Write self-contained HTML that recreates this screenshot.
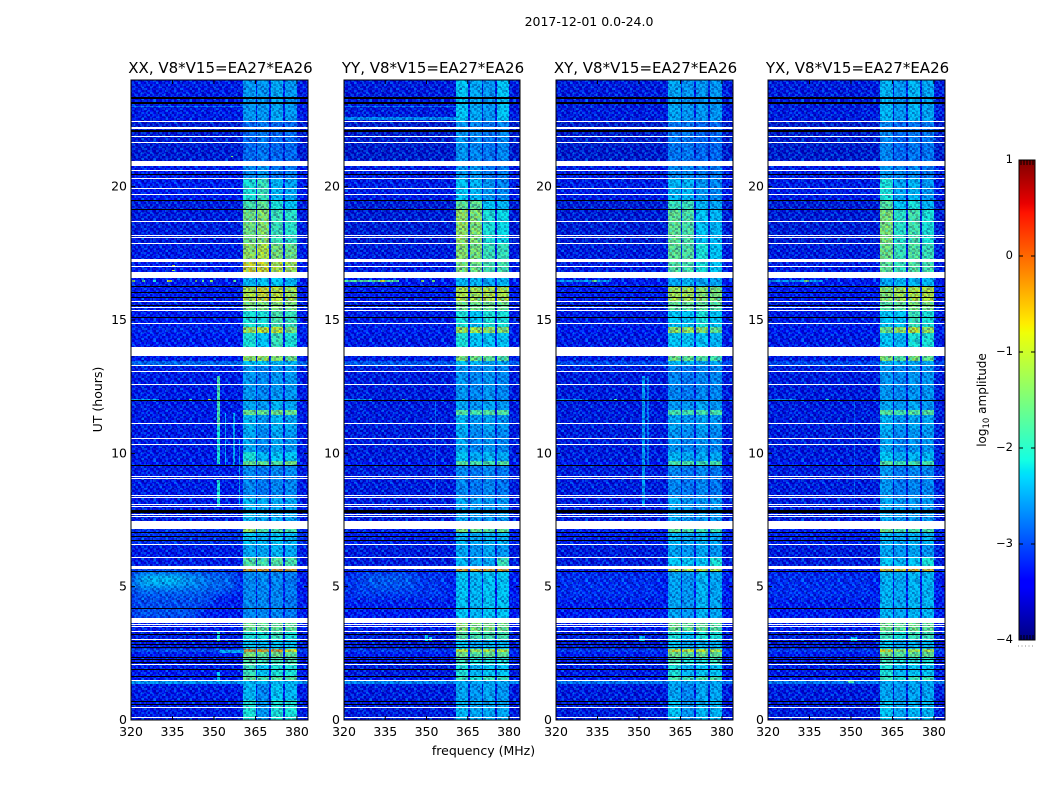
<!DOCTYPE html>
<html lang="en">
<head>
<meta charset="utf-8">
<title>2017-12-01 dynamic spectra</title>
<style>
html,body{margin:0;padding:0;background:#fff;width:1050px;height:800px;overflow:hidden}
svg{display:block}
text{font-family:"DejaVu Sans","Liberation Sans",sans-serif;fill:#000}
</style>
</head>
<body>
<svg id="figure" xmlns="http://www.w3.org/2000/svg" width="1050" height="800" viewBox="0 0 1050 800">
  <rect x="0" y="0" width="1050" height="800" fill="#fff"/>
  <text x="589" y="26" font-size="12.5" text-anchor="middle">2017-12-01 0.0-24.0</text>
  <text x="483.5" y="755" font-size="12.5" text-anchor="middle">frequency (MHz)</text>
  <text transform="translate(102,399.5) rotate(-90)" font-size="12.5" text-anchor="middle">UT (hours)</text>
  <text transform="translate(986,400) rotate(-90)" font-size="12" text-anchor="middle">log<tspan font-size="8.5" dy="3">10</tspan><tspan dy="-3"> amplitude</tspan></text>
</svg>
<script>
// ---- Axis tick labels ----
const freqTicks = [320, 335, 350, 365, 380];
const utTicks = [0, 5, 10, 15, 20];
const colorTicks = [1, 0, -1, -2, -3, -4];
const polarizationNames = ['XX', 'YY', 'XY', 'YX'];
const baselineLabel = ', V8*V15=EA27*EA26';

// ---- Frequency channels (MHz) and the level column each one reads ----
const channelStart = [320, 360.6, 365.1, 365.7, 370, 370.7, 375, 375.8, 380.1];
const channelEnd = [360.6, 365.1, 365.7, 370, 370.7, 375, 375.8, 380.1, 384];
const channelLevel = [0, 1, 0, 2, 0, 3, 0, 4, 0];

// ---- Time spans (UT hours) ----
const utStart = [0, .73, 1.33, 1.44, 1.59, 2.08, 2.35, 2.53, 2.65, 2.98, 3.32, 3.62, 5.53, 5.65, 6.10, 6.59, 7.04, 7.45, 8.35, 9.55, 9.70, 10.04, 10.86, 11.43, 11.61, 11.99, 13.30, 13.45, 13.98, 14.50, 14.73, 15.37, 15.70, 16.23, 16.57, 17.17, 17.88, 19.16, 19.49, 20.32, 20.96, 22.46];
const utEnd = [.73, 1.33, 1.44, 1.59, 2.08, 2.35, 2.53, 2.65, 2.98, 3.32, 3.62, 5.53, 5.65, 6.10, 6.59, 7.04, 7.45, 8.35, 9.55, 9.70, 10.04, 10.86, 11.43, 11.61, 11.99, 13.30, 13.45, 13.98, 14.50, 14.73, 15.37, 15.70, 16.23, 16.57, 17.17, 17.88, 19.16, 19.49, 20.32, 20.96, 22.46, 24];

// ---- log10 amplitude per span: [background, window 1, window 2, window 3, window 4] ----
const xxLevels = [
[-3.25,-1.9,-2.3,-1.9,-1.9],[-3.25,-2.1,-2.4,-2.0,-2.1],[-2.3,-2.1,-2.1,-2.1,-2.1],[-3.15,-1.5,-1.7,-1.6,-1.6],[-3.2,-1.8,-2.0,-1.9,-1.9],[-3.2,-1.6,-1.8,-1.8,-1.7],
[-3.15,-1.3,-1.5,-1.4,-1.5],[-2.8,-0.2,-0.3,-0.3,-0.7],[-3.25,-2.0,-2.1,-2.0,-2.0],[-3.25,-1.9,-1.9,-1.8,-1.9],[-3.15,-1.4,-1.5,-1.5,-1.5],[-3.15,-2.4,-2.4,-2.4,-2.5],
[-3.1,-0.3,-0.3,-0.2,-0.3],[-3.25,-1.6,-1.7,-1.6,-1.7],[-3.25,-2.2,-2.2,-2.1,-2.2],[-3.0,-2.0,-2.1,-2.0,-2.1],[-3.0,-1.1,-1.7,-1.7,-1.7],[-3.25,-2.1,-2.2,-2.2,-2.2],
[-3.25,-2.4,-2.5,-2.4,-2.4],[-3.15,-1.5,-1.5,-1.6,-1.4],[-3.25,-1.9,-2.1,-2.0,-2.0],[-3.25,-2.2,-2.4,-2.2,-2.3],[-3.25,-2.1,-2.3,-2.1,-2.2],[-3.25,-1.4,-1.5,-1.4,-1.4],
[-3.25,-2.2,-2.3,-2.1,-2.2],[-3.25,-2.3,-2.4,-2.3,-2.3],[-2.6,-2.0,-2.0,-2.1,-2.1],[-3.2,-1.1,-1.1,-1.2,-1.4],[-3.2,-1.9,-2.0,-1.8,-1.9],[-3.05,-1.0,-0.8,-0.8,-1.3],
[-3.2,-1.9,-1.9,-1.7,-1.8],[-3.25,-1.3,-1.3,-1.2,-1.3],[-3.15,-0.9,-0.7,-0.8,-1.0],[-3.15,-2.1,-2.0,-2.0,-2.1],[-3.2,-0.7,-0.7,-0.9,-1.0],[-3.25,-1.1,-0.9,-1.3,-1.4],
[-3.3,-1.35,-1.2,-1.8,-1.85],[-3.3,-1.7,-1.5,-1.9,-2.0],[-3.2,-1.9,-1.8,-2.1,-2.2],[-3.2,-2.4,-2.3,-2.5,-2.5],[-3.35,-2.6,-2.5,-2.6,-2.6],[-3.25,-2.3,-2.3,-2.2,-2.3]
];
const yyLevels = [
[-3.3,-2.1,-2.2,-2.2,-2.2],[-3.3,-2.2,-2.3,-2.2,-2.3],[-2.4,-2.2,-2.2,-2.2,-2.2],[-3.2,-1.8,-1.9,-1.8,-1.8],[-3.3,-1.9,-2.1,-2.0,-2.0],[-3.2,-1.8,-1.9,-1.9,-1.9],
[-3.2,-1.4,-1.6,-1.5,-1.5],[-2.9,-0.8,-1.1,-0.9,-0.9],[-3.3,-2.0,-2.2,-2.1,-2.1],[-3.3,-1.6,-1.7,-1.7,-1.7],[-3.2,-1.2,-1.3,-1.3,-1.4],[-3.15,-2.0,-2.1,-2.0,-2.0],
[-3.2,-0.3,-0.4,-0.3,-0.3],[-3.3,-2.1,-2.2,-2.2,-1.8],[-3.3,-2.2,-2.3,-2.2,-2.3],[-3.1,-2.1,-2.2,-2.1,-2.1],[-3.1,-1.3,-1.5,-1.6,-1.5],[-3.3,-2.2,-2.3,-2.3,-2.3],
[-3.3,-2.4,-2.5,-2.4,-2.5],[-3.2,-1.6,-1.7,-1.7,-1.6],[-3.3,-2.0,-2.2,-2.1,-2.2],[-3.3,-2.2,-2.4,-2.3,-2.4],[-3.3,-2.1,-2.3,-2.2,-2.3],[-3.3,-1.6,-1.7,-1.6,-1.6],
[-3.3,-2.2,-2.3,-2.2,-2.3],[-3.3,-2.3,-2.4,-2.3,-2.4],[-2.7,-2.0,-2.1,-2.2,-2.2],[-3.25,-1.3,-1.4,-1.5,-1.6],[-3.25,-1.9,-2.0,-2.0,-2.0],[-3.1,-1.0,-1.0,-1.1,-1.2],
[-3.25,-1.9,-2.0,-1.9,-1.9],[-3.3,-1.4,-1.4,-1.4,-1.4],[-3.2,-0.9,-1.0,-0.9,-0.9],[-3.2,-2.1,-2.1,-2.2,-2.1],[-3.25,-1.3,-1.4,-1.7,-1.7],[-3.3,-1.2,-1.3,-1.8,-1.8],
[-3.35,-1.1,-1.25,-1.9,-1.95],[-3.35,-1.5,-1.5,-2.0,-2.1],[-3.25,-2.0,-2.1,-2.3,-2.4],[-3.25,-2.3,-2.3,-2.5,-2.5],[-3.4,-2.3,-2.4,-2.5,-2.4],[-3.3,-2.0,-2.2,-2.3,-2.0]
];
const xyLevels = [
[-3.3,-2.0,-2.3,-2.1,-2.1],[-3.3,-2.2,-2.4,-2.2,-2.2],[-2.5,-2.2,-2.2,-2.2,-2.2],[-3.2,-1.7,-1.8,-1.7,-1.7],[-3.25,-1.9,-2.1,-2.0,-2.0],[-3.25,-1.7,-1.9,-1.9,-1.8],
[-3.2,-1.4,-1.5,-1.4,-1.5],[-2.9,-0.7,-0.8,-0.8,-1.0],[-3.3,-2.0,-2.2,-2.1,-2.1],[-3.3,-1.9,-2.0,-1.9,-1.9],[-3.2,-1.4,-1.5,-1.5,-1.6],[-3.2,-2.2,-2.3,-2.1,-2.2],
[-3.2,-0.9,-1.0,-0.9,-1.0],[-3.3,-2.0,-2.0,-2.0,-1.9],[-3.3,-2.2,-2.3,-2.2,-2.3],[-3.1,-2.1,-2.2,-2.1,-2.2],[-3.1,-1.5,-1.7,-1.8,-1.8],[-3.3,-2.2,-2.3,-2.3,-2.3],
[-3.3,-2.4,-2.5,-2.4,-2.5],[-3.2,-1.7,-1.7,-1.8,-1.7],[-3.3,-2.1,-2.2,-2.2,-2.2],[-3.3,-2.3,-2.4,-2.3,-2.4],[-3.3,-2.2,-2.3,-2.2,-2.3],[-3.3,-1.7,-1.7,-1.7,-1.7],
[-3.3,-2.3,-2.3,-2.2,-2.3],[-3.3,-2.4,-2.5,-2.4,-2.4],[-2.8,-2.1,-2.1,-2.2,-2.2],[-3.25,-1.4,-1.5,-1.6,-1.7],[-3.25,-2.0,-2.0,-2.0,-2.1],[-3.15,-1.1,-1.1,-1.2,-1.5],
[-3.25,-2.0,-2.0,-1.9,-2.0],[-3.3,-1.5,-1.5,-1.5,-1.6],[-3.2,-1.0,-1.0,-1.2,-1.3],[-3.2,-2.2,-2.1,-2.2,-2.2],[-3.25,-1.6,-1.7,-1.9,-2.0],[-3.3,-1.5,-1.6,-1.9,-2.0],
[-3.35,-1.5,-1.65,-2.0,-2.1],[-3.35,-1.8,-1.8,-2.1,-2.2],[-3.25,-2.1,-2.1,-2.3,-2.4],[-3.25,-2.4,-2.4,-2.5,-2.5],[-3.4,-2.5,-2.5,-2.6,-2.6],[-3.3,-2.2,-2.3,-2.3,-2.3]
];
const yxLevels = [
[-3.3,-2.0,-2.2,-2.1,-2.1],[-3.3,-2.2,-2.3,-2.2,-2.2],[-2.5,-2.2,-2.2,-2.2,-2.2],[-3.2,-1.8,-1.9,-1.8,-1.8],[-3.25,-1.9,-2.1,-2.0,-2.0],[-3.25,-1.8,-1.9,-1.9,-1.9],
[-3.2,-1.4,-1.6,-1.5,-1.5],[-2.9,-0.7,-1.2,-1.0,-1.0],[-3.3,-2.0,-2.2,-2.1,-2.1],[-3.3,-1.8,-1.9,-1.8,-1.8],[-3.2,-1.4,-1.5,-1.4,-1.5],[-3.2,-2.1,-2.2,-2.1,-2.1],
[-3.2,-0.5,-0.6,-0.4,-0.5],[-3.3,-2.0,-2.1,-2.0,-1.9],[-3.3,-2.2,-2.3,-2.2,-2.3],[-3.1,-2.1,-2.2,-2.1,-2.1],[-3.1,-1.4,-1.7,-1.7,-1.7],[-3.3,-2.2,-2.3,-2.3,-2.3],
[-3.3,-2.3,-2.5,-2.4,-2.4],[-3.2,-1.6,-1.8,-1.7,-1.7],[-3.3,-2.0,-2.2,-2.1,-2.1],[-3.3,-2.2,-2.4,-2.3,-2.3],[-3.3,-2.1,-2.3,-2.2,-2.2],[-3.3,-1.6,-1.7,-1.6,-1.6],
[-3.3,-2.2,-2.3,-2.2,-2.3],[-3.3,-2.3,-2.4,-2.3,-2.3],[-2.8,-2.1,-2.1,-2.2,-2.2],[-3.25,-1.3,-1.6,-1.3,-1.5],[-3.25,-2.0,-2.1,-1.9,-1.9],[-3.15,-1.4,-1.1,-0.8,-1.1],
[-3.25,-2.0,-2.0,-1.8,-1.9],[-3.3,-1.6,-1.5,-1.3,-1.3],[-3.2,-1.2,-1.0,-0.9,-0.9],[-3.2,-2.2,-2.1,-2.1,-2.1],[-3.25,-1.5,-1.8,-1.6,-1.7],[-3.3,-1.4,-1.8,-1.6,-1.8],
[-3.35,-1.3,-1.85,-1.7,-1.9],[-3.35,-1.6,-2.0,-1.9,-2.1],[-3.25,-1.9,-2.2,-2.1,-2.3],[-3.25,-2.3,-2.4,-2.4,-2.5],[-3.4,-2.4,-2.6,-2.5,-2.5],[-3.3,-2.1,-2.3,-2.1,-2.2]
];
const panelLevels = [xxLevels, yyLevels, xyLevels, yxLevels];

// ---- Diffuse solar-burst glow: [fStart, fEnd, utStart, utEnd, level] ----
const xxGlow = [[320,345,3.8,4.2,-2.65],[320,350,4.3,4.7,-2.7],[320,358,4.75,5.53,-2.6],[320,346,4.95,5.53,-2.35],[324,338,5.05,5.5,-2.05]];
const yyGlow = [[320,358,4.5,5.53,-2.9],[328,345,4.9,5.5,-2.7]];
const xyGlow = [[320,358,4.5,5.53,-3.0]];
const yxGlow = [[320,358,4.5,5.53,-2.95]];
const panelGlow = [xxGlow, yyGlow, xyGlow, yxGlow];

// ---- Localised interference: [fStart, fEnd, utStart, utEnd, level] ----
const xxPatches = [
[351,352,8.0,9.0,-1.9],[351,352,9.6,11.0,-1.9],[351,352,11.0,12.9,-1.7],[354,354.5,9.5,11.5,-2.2],[357,357.5,9.5,11.5,-2.2],[359,359.5,8.0,10.5,-2.3],
[320.5,321.5,16.4,16.48,-1.2],[324,325,16.4,16.48,-1.5],[328,329,16.4,16.48,-1.8],[333,335,16.4,16.48,-0.8],[343,344,16.4,16.48,-1.3],[345.5,346.5,16.4,16.48,-1.5],[348.5,349.5,16.4,16.48,-1.2],[357,358,16.4,16.48,-1.6],
[320,330,11.97,12.03,-2.2],[341,342,11.97,12.03,-1.4],[348,349,11.97,12.03,-1.1],[352,361,2.50,2.60,-2.2],[351,352,2.9,3.3,-1.9],[351,352,1.4,1.8,-2.0],
[320,360.6,22.98,23.02,-2.55],[356,357,21.1,21.15,-1.2],[335,336,17.0,17.05,-0.9],[335,336,16.8,16.85,-0.9]
];
const yyPatches = [
[320,340,16.4,16.48,-1.6],[333,335,16.4,16.48,-0.7],[348,349,16.4,16.48,-1.2],[352,353,16.4,16.48,-1.4],
[320,360.6,22.5,22.58,-2.4],[320,360.6,22.98,23.02,-2.55],[349.5,350.5,2.95,3.2,-2.0],[351,352,2.95,3.1,-1.9],[320,330,11.97,12.03,-2.3],[341,342,11.97,12.03,-1.6],[353,353.5,8.3,12.0,-2.6]
];
const xyPatches = [
[320,340,16.4,16.48,-2.3],[333,335,16.4,16.48,-1.5],[351,352,8.0,12.9,-2.25],[353,353.5,9.5,12.9,-2.5],[320,330,11.97,12.03,-2.4],[350,352,2.95,3.15,-2.1],[341,342,11.97,12.03,-1.7]
];
const yxPatches = [
[320,340,16.4,16.48,-2.3],[333,335,16.4,16.48,-1.4],[351,351.5,8.0,12.0,-2.7],[350,352,2.95,3.1,-2.0],[349,351,1.36,1.46,-1.7],[320,330,11.97,12.03,-2.4],[341,342,11.97,12.03,-1.7]
];
const panelPatches = [xxPatches, yyPatches, xyPatches, yxPatches];

// ---- Dropouts reading as zero (black), [utStart, utEnd] ----
const zeroSpans = [
[23.27,23.36],[23.07,23.14],[22.05,22.09],[20.43,20.47],[19.46,19.50],[19.12,19.16],[16.23,16.27],[16.00,16.04],[15.82,15.86],[15.52,15.56],[15.07,15.11],
[11.95,11.99],[9.51,9.55],[7.76,7.86],[7.00,7.04],[6.85,6.89],[6.70,6.74],[5.53,5.57],[4.15,4.19],[3.17,3.21],[2.91,2.95],[2.80,2.84],[2.68,2.72],
[2.31,2.35],[2.23,2.27],[2.12,2.16],[1.86,1.90],[1.59,1.63],[.64,.68],[.54,.58]
];

// ---- Flagged (blank, white) spans, [utStart, utEnd] ----
const flaggedSpans = [
[22.41,22.45],[22.16,22.23],[21.86,21.89],[21.63,21.67],[20.77,20.96],[20.58,20.62],[20.28,20.32],[19.91,19.94],[19.67,19.70],[18.67,18.71],[18.14,18.18],[18.07,18.11],
[17.84,17.88],[17.17,17.28],[16.98,17.02],[16.57,16.79],[15.67,15.70],[15.44,15.48],[15.33,15.37],[14.84,14.88],[13.64,13.98],[13.28,13.31],[13.04,13.08],[12.53,12.57],
[11.09,11.13],[10.53,10.56],[10.30,10.34],[9.08,9.12],[9.02,9.06],[8.37,8.41],[8.29,8.33],[8.05,8.09],[7.97,8.01],[7.67,7.71],[7.60,7.64],[7.14,7.45],
[6.55,6.59],[6.06,6.10],[5.65,5.76],[3.62,3.80],[3.55,3.58],[3.47,3.50],[3.30,3.33],[2.98,3.02],[2.05,2.08],[1.44,1.48],[.43,.47],[.06,.09]
];

// ---- Receiver speckle tile, hand-tabulated (−1 dark … +1 bright) ----
const speckleTile = [
[ 0.5,-0.6, 0.2, 0.9,-0.3,-0.8, 0.4, 0.0,-0.5, 0.7, 0.1,-0.9],
[-0.7, 0.3,-0.2, 0.1, 0.8,-0.4,-0.9, 0.6, 0.2,-0.3, 0.9,-0.1],
[ 0.2, 0.8,-0.9, 0.4,-0.1, 0.5, 0.3,-0.7, 0.8,-0.5,-0.2, 0.4],
[-0.3,-0.5, 0.6,-0.8, 0.2, 0.9,-0.6, 0.1,-0.2, 0.4,-0.8, 0.7],
[ 0.9, 0.0,-0.4, 0.3,-0.7,-0.1, 0.7,-0.3, 0.5,-0.9, 0.3,-0.4],
[-0.8, 0.6, 0.1,-0.5, 0.5,-0.3,-0.2, 0.9,-0.6, 0.2, 0.6,-0.1],
[ 0.3,-0.2, 0.7, 0.0,-0.9, 0.6, 0.1,-0.4, 0.3,-0.7,-0.3, 0.8],
[-0.1, 0.9,-0.6, 0.4, 0.3,-0.5, 0.8,-0.8, 0.0, 0.6,-0.4, 0.2],
[ 0.6,-0.7, 0.2,-0.3, 0.7, 0.1,-0.5, 0.4,-0.9, 0.3, 0.5,-0.6],
[-0.4, 0.1,-0.8, 0.8,-0.2,-0.6, 0.3, 0.6, 0.2,-0.1,-0.7, 0.9]
];

// ---- Colormap control points (matplotlib "jet") ----
const jetRedAt = [0, .35, .66, .89, 1];
const jetRedValue = [0, 0, 1, 1, .5];
const jetGreenAt = [0, .125, .375, .64, .91, 1];
const jetGreenValue = [0, 0, 1, 1, 0, 0];
const jetBlueAt = [0, .11, .34, .65, 1];
const jetBlueValue = [.5, 1, 1, 0, 0];

const SVGNS = 'http://www.w3.org/2000/svg';
const figure = document.getElementById('figure');
const panelLeft = [131, 344, 556, 768];
const panelWidth = [177, 176, 177, 177];
const plotTop = 80, plotBottom = 720;
const logMin = -4, logMax = 1;
const fMin = 320, fMax = 384, utMax = 24;

function xScale(panel, f) { return panelLeft[panel] + (f - fMin) / (fMax - fMin) * panelWidth[panel]; }
function yScale(ut) { return plotBottom - ut / utMax * (plotBottom - plotTop); }
function colorbarY(v) { return 160 + (logMax - v) / (logMax - logMin) * 480; }

function interp(xs, ys, t) {
  for (let i = 1; i < xs.length; i++) {
    if (t <= xs[i]) return ys[i - 1] + (ys[i] - ys[i - 1]) * (t - xs[i - 1]) / (xs[i] - xs[i - 1]);
  }
  return ys[ys.length - 1];
}
function jet(t) {
  t = Math.max(0, Math.min(1, t));
  const r = Math.round(255 * interp(jetRedAt, jetRedValue, t));
  const g = Math.round(255 * interp(jetGreenAt, jetGreenValue, t));
  const b = Math.round(255 * interp(jetBlueAt, jetBlueValue, t));
  return 'rgb(' + r + ',' + g + ',' + b + ')';
}
function medianLevel(v) {
  if (v <= -3.0) return v - 0.25;
  if (v <= -2.0) return v - 0.3;
  if (v < -1.8) return v - 0.3 * (-1.8 - v) / 0.2;
  return v;
}
function levelColor(v) { return jet((medianLevel(v) - logMin) / (logMax - logMin)); }

function make(tag, parent) {
  const el = document.createElementNS(SVGNS, tag);
  parent.appendChild(el);
  return el;
}
// Snap boxes to whole pixels so one-pixel rows stay pure white / black.
function setBox(el, x0, x1, y0, y1, fill) {
  const left = Math.round(x0);
  const top = Math.floor(y0);
  el.setAttribute('x', left);
  el.setAttribute('y', top);
  el.setAttribute('width', Math.max(1, Math.round(x1) - left));
  el.setAttribute('height', Math.max(1, Math.floor(y1) - top));
  el.setAttribute('fill', fill);
}

// speckle patterns: same tile at two incommensurate sizes so the repeat does not show
const defs = make('defs', figure);
function buildSpeckle(id, cellW, cellH, strength) {
  const pattern = make('pattern', defs);
  pattern.setAttribute('id', id);
  pattern.setAttribute('patternUnits', 'userSpaceOnUse');
  pattern.setAttribute('width', speckleTile[0].length * cellW);
  pattern.setAttribute('height', speckleTile.length * cellH);
  speckleTile.forEach(function (row, j) {
    row.forEach(function (v, i) {
      const cell = make('rect', pattern);
      setBox(cell, i * cellW, (i + 1) * cellW, j * cellH, (j + 1) * cellH, v > 0 ? '#00c8ff' : '#000070');
      cell.setAttribute('fill-opacity', (Math.abs(v) * strength).toFixed(2));
    });
  });
}
buildSpeckle('speckleA', 3, 2, 0.42);
buildSpeckle('speckleB', 2, 3, 0.3);

const blur = make('filter', defs);
blur.setAttribute('id', 'glowBlur');
blur.setAttribute('x', '-30%'); blur.setAttribute('y', '-60%');
blur.setAttribute('width', '160%'); blur.setAttribute('height', '220%');
const blurNode = make('feGaussianBlur', blur);
blurNode.setAttribute('stdDeviation', '6 4');

polarizationNames.forEach(function (name, p) {
  const panel = make('g', figure);
  
  

  const clip = make('clipPath', defs);
  clip.setAttribute('id', 'clip' + p);
  const clipBox = make('rect', clip);
  setBox(clipBox, panelLeft[p], panelLeft[p] + panelWidth[p], plotTop, plotBottom, '#000');

  const heat = make('g', panel);
  
  
  heat.setAttribute('shape-rendering', 'crispEdges');
  heat.setAttribute('clip-path', 'url(#clip' + p + ')');

  // base cells: one per time span × channel
  panelLevels[p].forEach(function (levels, r) {
    channelStart.forEach(function (f0, c) {
      const cell = make('rect', heat);
      
      
      setBox(cell, xScale(p, f0), xScale(p, channelEnd[c]), yScale(utEnd[r]), yScale(utStart[r]), levelColor(levels[channelLevel[c]]));
    });
  });

  // diffuse glow
  const glow = make('g', heat);
  
  
  glow.setAttribute('filter', 'url(#glowBlur)');
  panelGlow[p].forEach(function (d) {
    const cell = make('rect', glow);
    
    
    setBox(cell, xScale(p, d[0]), xScale(p, d[1]), yScale(d[3]), yScale(d[2]), levelColor(d[4]));
  });

  // localised features
  panelPatches[p].forEach(function (d) {
    const cell = make('rect', heat);
    
    
    setBox(cell, xScale(p, d[0]), xScale(p, d[1]), yScale(d[3]), yScale(d[2]), levelColor(d[4]));
  });

  // speckle texture
  const texA = make('rect', heat);
  
  
  setBox(texA, panelLeft[p], panelLeft[p] + panelWidth[p], plotTop, plotBottom, 'url(#speckleA)');
  const texB = make('rect', heat);
  
  
  setBox(texB, panelLeft[p], panelLeft[p] + panelWidth[p], plotTop, plotBottom, 'url(#speckleB)');

  // dropouts
  zeroSpans.forEach(function (s) {
    const line = make('rect', heat);
    
    
    setBox(line, xScale(p, fMin), xScale(p, fMax), yScale(s[1]), yScale(s[0]), '#000');
  });
  flaggedSpans.forEach(function (s) {
    const line = make('rect', heat);
    
    
    setBox(line, xScale(p, fMin), xScale(p, fMax), yScale(s[1]), yScale(s[0]), '#fff');
  });

  // ticks
  freqTicks.forEach(function (f) {
    const x = xScale(p, f);
    [[plotBottom, plotBottom - 4], [plotTop, plotTop + 4]].forEach(function (e) {
      const t = make('line', panel);
      
      
      t.setAttribute('x1', x); t.setAttribute('x2', x);
      t.setAttribute('y1', e[0]); t.setAttribute('y2', e[1]);
      t.setAttribute('stroke', '#000'); t.setAttribute('stroke-width', '1');
    });
    const label = make('text', panel);
    
    
    label.setAttribute('x', x);
    label.setAttribute('y', plotBottom + 16);
    label.setAttribute('font-size', '12.5');
    label.setAttribute('text-anchor', 'middle');
    label.textContent = String(f);
  });
  utTicks.forEach(function (u) {
    const y = yScale(u);
    const left = panelLeft[p], right = left + panelWidth[p];
    [[left, left + 4], [right, right - 4]].forEach(function (e) {
      const t = make('line', panel);
      
      
      t.setAttribute('x1', e[0]); t.setAttribute('x2', e[1]);
      t.setAttribute('y1', y); t.setAttribute('y2', y);
      t.setAttribute('stroke', '#000'); t.setAttribute('stroke-width', '1');
    });
    const label = make('text', panel);
    
    
    label.setAttribute('x', left - 4);
    label.setAttribute('y', y + 4);
    label.setAttribute('font-size', '12.5');
    label.setAttribute('text-anchor', 'end');
    label.textContent = String(u);
  });

  // frame
  const frame = make('rect', panel);
  
  
  frame.setAttribute('x', panelLeft[p]);
  frame.setAttribute('y', plotTop);
  frame.setAttribute('width', panelWidth[p]);
  frame.setAttribute('height', plotBottom - plotTop);
  frame.setAttribute('fill', 'none');
  frame.setAttribute('stroke', '#000');
  frame.setAttribute('stroke-width', '1');

  // title
  const title = make('text', panel);
  
  
  title.setAttribute('x', panelLeft[p] + panelWidth[p] / 2 + 1);
  title.setAttribute('y', 73);
  title.setAttribute('font-size', '15');
  title.setAttribute('text-anchor', 'middle');
  title.textContent = name + baselineLabel;
});

// ---- Colorbar ----
const bar = make('g', figure);


const grad = make('linearGradient', defs);
grad.setAttribute('id', 'jetGradient');
grad.setAttribute('x1', '0'); grad.setAttribute('y1', '1');
grad.setAttribute('x2', '0'); grad.setAttribute('y2', '0');
const stopPositions = Array.from(new Set([].concat(jetRedAt, jetGreenAt, jetBlueAt))).sort(function (a, b) { return a - b; });
stopPositions.forEach(function (t) {
  const s = make('stop', grad);
  s.setAttribute('offset', t);
  s.setAttribute('stop-color', jet(t));
});
const barRect = make('rect', bar);


barRect.setAttribute('x', 1019);
barRect.setAttribute('y', 160);
barRect.setAttribute('width', 16);
barRect.setAttribute('height', 480);
barRect.setAttribute('fill', 'url(#jetGradient)');
barRect.setAttribute('stroke', '#000');
barRect.setAttribute('stroke-width', '1');

colorTicks.forEach(function (v) {
  const y = colorbarY(v);
  [[1019, 1023], [1035, 1031]].forEach(function (e) {
    const t = make('line', bar);
    
    
    t.setAttribute('x1', e[0]); t.setAttribute('x2', e[1]);
    t.setAttribute('y1', y); t.setAttribute('y2', y);
    t.setAttribute('stroke', '#000'); t.setAttribute('stroke-width', '1');
  });
  const label = make('text', bar);
  
  
  label.setAttribute('x', 1013);
  label.setAttribute('y', y + 3);
  label.setAttribute('font-size', '11.5');
  label.setAttribute('text-anchor', 'end');
  label.textContent = (v < 0 ? '\u2212' : '') + Math.abs(v);
});
[1021, 1024, 1027, 1030, 1033].forEach(function (x) {
  [[160, 165], [640, 635]].forEach(function (e) {
    const t = make('line', bar);
    
    
    t.setAttribute('x1', x); t.setAttribute('x2', x);
    t.setAttribute('y1', e[0]); t.setAttribute('y2', e[1]);
    t.setAttribute('stroke', '#000'); t.setAttribute('stroke-width', '1');
  });
});
const dots = make('line', bar);


dots.setAttribute('x1', 1018); dots.setAttribute('x2', 1035);
dots.setAttribute('y1', 646); dots.setAttribute('y2', 646);
dots.setAttribute('stroke', '#888');
dots.setAttribute('stroke-width', '1');
dots.setAttribute('stroke-dasharray', '1 2.5');
</script>
</body>
</html>
